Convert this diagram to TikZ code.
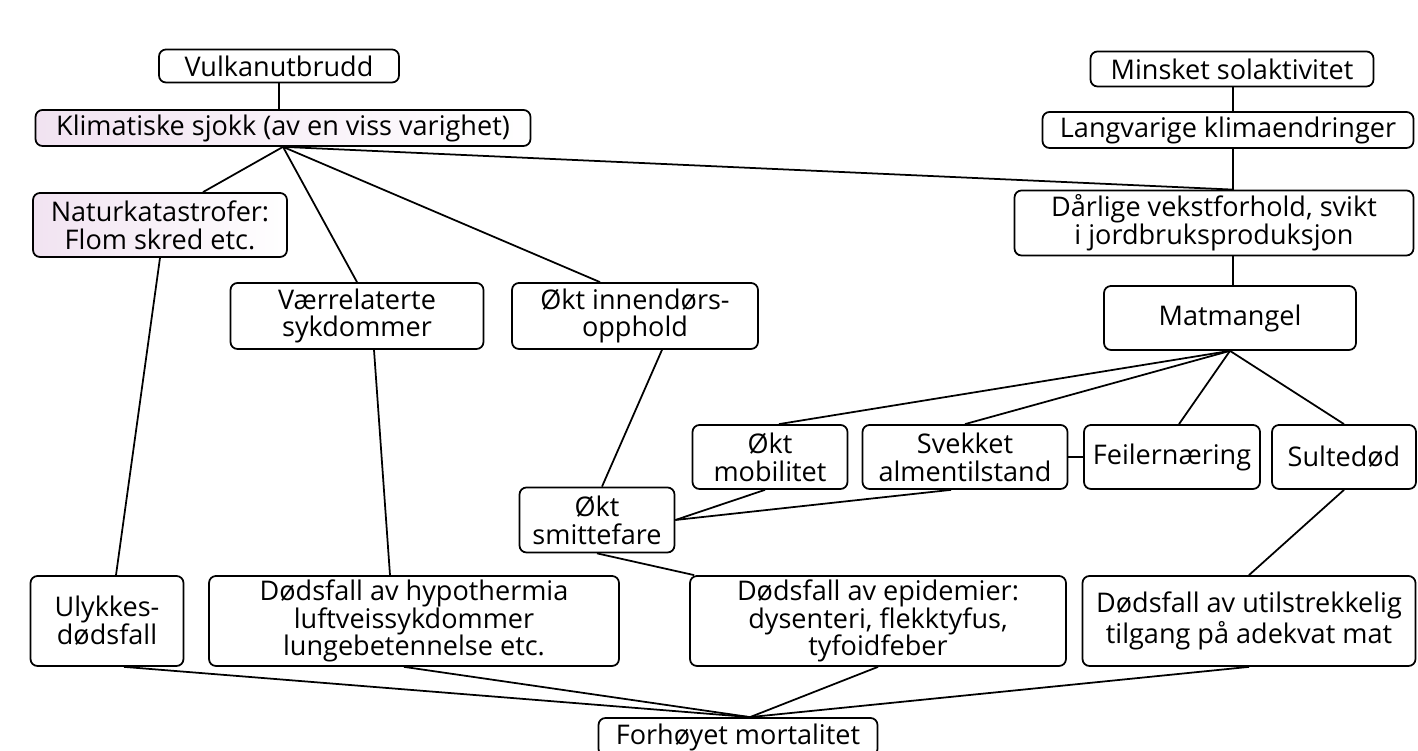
\documentclass[tikz,border=0pt]{standalone}
\usepackage{fontspec}
\setmainfont{Open Sans}
\usepackage{tikz}
\usepackage{xcolor}

\begin{document}
\begin{tikzpicture}[
  boks/.style={draw, line width=1pt, rounded corners=4pt, align=center, inner sep=2pt,
    font=\fontsize{15.4}{15.8}\selectfont},
  lilla/.style={left color=violet!11, right color=white},
  kant/.style={line width=1pt}]
\useasboundingbox (0,0) rectangle (28.36,15.02);
% venstre gren
\node[boks, minimum width=4.8cm, minimum height=0.66cm] (vulkan) at (5.58,13.70) {Vulkanutbrudd};
\node[boks, lilla, minimum width=9.9cm, minimum height=0.72cm] (klima) at (5.66,12.46) {Klimatiske sjokk (av en viss varighet)};
\node[boks, lilla, minimum width=5.08cm, minimum height=1.28cm] (natur) at (3.2,10.52) {Naturkatastrofer:\\Flom skred etc.};
\node[boks, minimum width=5.06cm, minimum height=1.32cm] (vaer) at (7.14,8.70) {Værrelaterte\\sykdommer};
\node[boks, minimum width=4.92cm, minimum height=1.32cm] (inne) at (12.70,8.70) {Økt innendørs-\\opphold};
\node[boks, minimum width=3.1cm, minimum height=1.3cm] (smitte) at (11.94,4.62) {Økt\\smittefare};
% hoyre gren
\node[boks, minimum width=5.66cm, minimum height=0.7cm] (minsket) at (24.64,13.64) {Minsket solaktivitet};
\node[boks, minimum width=7.42cm, minimum height=0.72cm] (langvarig) at (24.56,12.42) {Langvarige klimaendringer};
\node[boks, minimum width=7.98cm, minimum height=1.3cm] (daarlig) at (24.28,10.56) {Dårlige vekstforhold, svikt\\i jordbruksproduksjon};
\node[boks, minimum width=5.04cm, minimum height=1.28cm] (matmangel) at (24.6,8.66) {Matmangel};
\node[boks, minimum width=3.1cm, minimum height=1.28cm] (mobil) at (15.4,5.88) {Økt\\mobilitet};
\node[boks, minimum width=4.1cm, minimum height=1.28cm] (svekket) at (19.3,5.88) {Svekket\\almentilstand};
\node[boks, minimum width=3.52cm, minimum height=1.28cm] (feil) at (23.44,5.88) {Feilernæring};
\node[boks, minimum width=2.88cm, minimum height=1.28cm] (sult) at (26.88,5.88) {Sultedød};
% dodsfall
\node[boks, minimum width=3.06cm, minimum height=1.8cm] (ulykke) at (2.14,2.6) {Ulykkes-\\dødsfall};
\node[boks, minimum width=8.2cm, minimum height=1.8cm] (hypo) at (8.28,2.6) {Dødsfall av hypothermia\\luftveissykdommer\\lungebetennelse etc.};
\node[boks, minimum width=7.52cm, minimum height=1.8cm] (epid) at (17.56,2.6) {Dødsfall av epidemier:\\dysenteri, flekktyfus,\\tyfoidfeber};
\node[boks, minimum width=6.66cm, minimum height=1.8cm] (utilstr) at (24.98,2.6) {Dødsfall av utilstrekkelig\\tilgang på adekvat mat};
\node[boks, minimum width=5.58cm, minimum height=0.76cm] (forhoy) at (14.76,0.28) {Forhøyet mortalitet};
\coordinate (samle) at ([xshift=0.24cm]forhoy.north);
\coordinate (stamme) at (24.66,0);

\draw[kant] (vulkan.south) -- (vulkan.south |- klima.north);
\draw[kant] (klima.south) -- ([xshift=0.86cm]natur.north);
\draw[kant] (klima.south) -- (vaer.north);
\draw[kant] (klima.south) -- ([xshift=-0.7cm]inne.north);
\draw[kant] (klima.south) -- (daarlig.north -| stamme);
\draw[kant] (minsket.south -| stamme) -- (langvarig.north -| stamme);
\draw[kant] (langvarig.south -| stamme) -- (daarlig.north -| stamme);
\draw[kant] (daarlig.south -| stamme) -- (matmangel.north -| stamme);
\draw[kant] (matmangel.south) -- ([xshift=0.18cm]mobil.north);
\draw[kant] (matmangel.south) -- (svekket.north);
\draw[kant] (matmangel.south) -- ([xshift=0.14cm]feil.north);
\draw[kant] (matmangel.south) -- (sult.north);
\draw[kant] (svekket.east) -- (feil.west);
\draw[kant] ([xshift=-0.1cm]mobil.south) -- (smitte.east);
\draw[kant] ([xshift=-0.28cm]svekket.south) -- (smitte.east);
\draw[kant] ([xshift=0.54cm]inne.south) -- ([xshift=0.1cm]smitte.north);
\draw[kant] (natur.south) -- ([xshift=0.18cm]ulykke.north);
\draw[kant] ([xshift=0.34cm]vaer.south) -- ([xshift=-0.48cm]hypo.north);
\draw[kant] (smitte.south) -- ([xshift=0.1cm]epid.north west);
\draw[kant] (sult.south) -- (utilstr.north);
\draw[kant] ([xshift=0.34cm]ulykke.south) -- (samle);
\draw[kant] ([xshift=-0.2cm]hypo.south) -- (samle);
\draw[kant] (epid.south) -- (samle);
\draw[kant] (utilstr.south) -- (samle);
\end{tikzpicture}
\end{document}
